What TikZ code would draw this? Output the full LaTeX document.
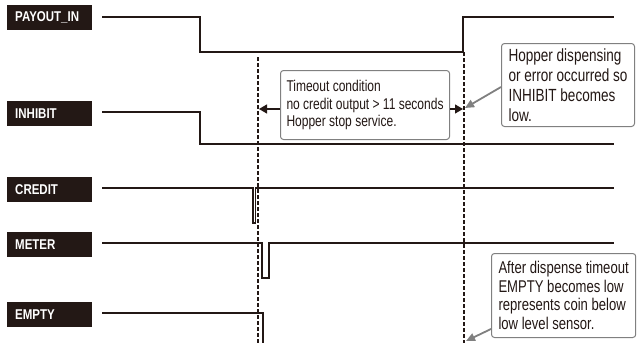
\documentclass[tikz,border=0pt]{standalone}
\usepackage{fontspec}
\usepackage{tikz}
\usetikzlibrary{arrows.meta}
\newfontfamily\condfont[FakeStretch=0.77]{Liberation Sans}
\newfontfamily\labelfont[FakeStretch=0.81]{Liberation Sans}
\definecolor{ink}{HTML}{231815}
\definecolor{boxgray}{HTML}{808080}

\begin{document}
\begin{tikzpicture}[x=1pt,y=-1pt,
    siglabel/.style={fill=ink,text=white,font=\labelfont\bfseries\fontsize{14.2}{16}\selectfont,
      minimum width=85pt,minimum height=25pt,inner xsep=8pt,text width=69pt,align=left,anchor=north west},
    sig/.style={ink,line width=1.3pt},
    marker/.style={ink,line width=2.7pt,dash pattern=on 4pt off 2pt},
    note/.style={draw=boxgray,line width=1pt,rounded corners=3pt,fill=white,text=ink,align=left,anchor=north west,inner xsep=6pt},
    blkarrow/.style={ink,line width=1.2pt,-{Triangle[length=8pt,width=9pt]}},
    grayarrow/.style={boxgray,line width=1.8pt,-{Triangle[length=9pt,width=8pt]}}]
    \useasboundingbox (0,0) rectangle (638,343);

    % signal names
    \node[siglabel] (payout) at (7,5) {PAYOUT\_IN};
    \node[siglabel] (inhibit) at (7,101) {INHIBIT};
    \node[siglabel] (credit) at (7,177) {CREDIT};
    \node[siglabel] (meter) at (7,232) {METER};
    \node[siglabel] (empty) at (7,302) {EMPTY};

    % waveforms
    \draw[sig] (102,17) -- (200,17) -- (200,52) -- (463,52) -- (463,17) -- (614,17);
    \draw[sig] (102,112) -- (200,112) -- (200,144) -- (614,144);
    \draw[sig] (102,188) -- (253,188) -- (253,223) -- (255.5,223) -- (255.5,188) -- (614,188);
    \draw[sig] (102,243) -- (262,243) -- (262,278) -- (269,278) -- (269,243) -- (614,243);
    \draw[sig] (102,313) -- (263,313) -- (263,343);

    % timeout markers
    \draw[marker] (258,57) -- (258,343);
    \draw[marker] (464,52) -- (464,343);
    \coordinate (tl) at (259,109);
    \coordinate (tr) at (463,109);
    \coordinate (hoptip) at (465,108);
    \coordinate (emptip) at (466,341);

    % notes
    \node[note,minimum height=69pt,font=\condfont\fontsize{15.6}{17.5}\selectfont] (tmo) at (280,70)
      {Timeout condition\\no credit output > 11 seconds\\Hopper stop service.};
    \node[note,inner xsep=7pt,minimum height=83pt,font=\condfont\fontsize{17.6}{20}\selectfont] (hop) at (501,43)
      {Hopper dispensing\\or error occurred so\\INHIBIT becomes\\low.};
    \node[note,inner xsep=7pt,minimum height=84pt,font=\condfont\fontsize{17}{18.5}\selectfont] (emp) at (491,253)
      {After dispense timeout\\EMPTY becomes low\\represents coin below\\low level sensor.};

    \draw[blkarrow] (tmo.west |- tl) -- (tl);
    \draw[blkarrow] (tmo.east |- tr) -- (tr);
    \draw[grayarrow] ([yshift=-2pt]hop.west) -- (hoptip);
    \draw[grayarrow] ([yshift=9pt]emp.south west) -- (emptip);
\end{tikzpicture}
\end{document}
